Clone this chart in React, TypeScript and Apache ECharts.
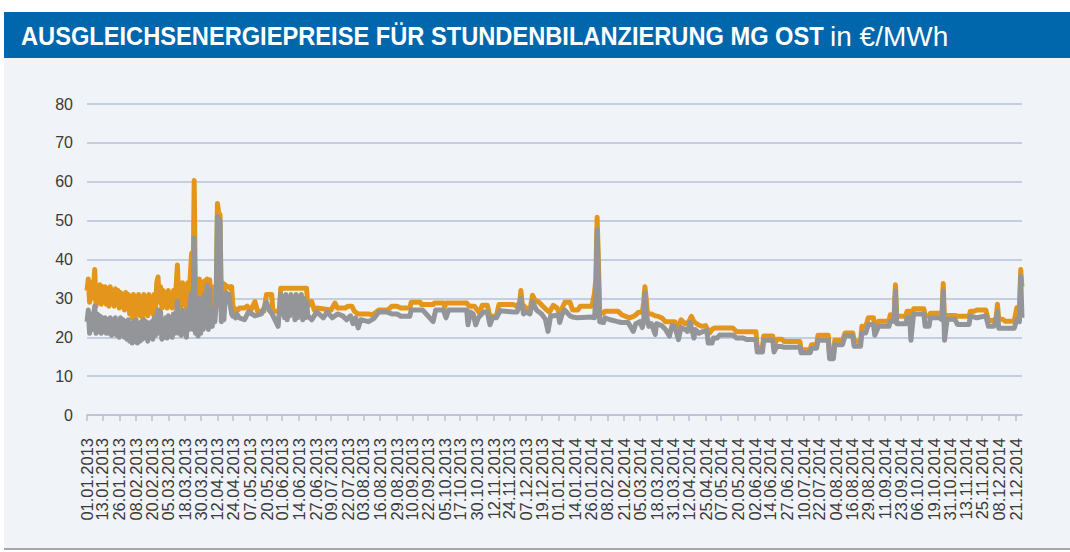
import React, { useEffect, useRef } from "react";
import * as echarts from "echarts";

// ---- axis categories: one per day from 01.01.2013 to 26.12.2014 ----
const START_UTC = Date.UTC(2013, 0, 1);
const DAY_COUNT = 725;
const pad = (n: number) => (n < 10 ? "0" + n : "" + n);
const dayLabel = (i: number) => {
  const d = new Date(START_UTC + i * 86400000);
  return pad(d.getUTCDate()) + "." + pad(d.getUTCMonth() + 1) + "." + d.getUTCFullYear();
};
const categories: string[] = Array.from({ length: DAY_COUNT }, (_, i) => dayLabel(i));

// ---- tick labels shown on the x axis ----
const tickLabels = [
  "01.01.2013", "13.01.2013", "26.01.2013", "08.02.2013", "20.02.2013", "05.03.2013",
  "18.03.2013", "30.03.2013", "12.04.2013", "24.04.2013", "07.05.2013", "20.05.2013",
  "01.06.2013", "14.06.2013", "27.06.2013", "09.07.2013", "22.07.2013", "03.08.2013",
  "16.08.2013", "29.08.2013", "10.09.2013", "22.09.2013", "05.10.2013", "17.10.2013",
  "30.10.2013", "12.11.2013", "24.11.2013", "07.12.2013", "19.12.2013", "01.01.2014",
  "14.01.2014", "26.01.2014", "08.02.2014", "21.02.2014", "05.03.2014", "18.03.2014",
  "31.03.2014", "12.04.2014", "25.04.2014", "07.05.2014", "20.05.2014", "02.06.2014",
  "14.06.2014", "27.06.2014", "10.07.2014", "22.07.2014", "04.08.2014", "16.08.2014",
  "29.08.2014", "11.09.2014", "23.09.2014", "06.10.2014", "19.10.2014", "31.10.2014",
  "13.11.2014", "25.11.2014", "08.12.2014", "21.12.2014",
];
const yTicks = [0, 10, 20, 30, 40, 50, 60, 70, 80];

// ---- orange series (upper), daily values from 01.01.2013 (day 0..117) ----
const orangeEarly = [
  32, 35, 29, 34, 30, 33, 37.4, 28, 33, 29, 33.5, 28.5, 33, 29, 33, 28.5, 32.5, 28, 33, 29,
  32, 28, 32.5, 28.5, 32, 27.5, 31.5, 28, 31, 27, 31.5, 27.5, 31, 26, 30.5, 25, 31, 24.5, 30.5, 26,
  31, 25.5, 30, 25, 31, 26, 30.5, 25.5, 31, 26.5, 30, 26, 31, 27, 34, 35.5, 29, 33, 27.5, 32,
  28, 31.5, 27.5, 32, 28, 31, 27.5, 32, 28.5, 33, 38.6, 30, 33.5, 28, 34, 28.5, 33, 27.5, 34, 30,
  36, 41.6, 31, 60.3, 29, 34.5, 27.5, 35, 28, 34, 27.5, 34.5, 30, 35, 28, 34.8, 29, 33, 28, 32.5,
  30, 54.4, 52, 51.5, 28, 34, 27, 33.5, 33, 33, 33, 32.5, 33, 28, 27.5, 26.5, 27, 27,
];
// ---- orange series, later points [day index, value] ----
const orangeLate: [number, number][] = [
  [118, 27.5], [122, 27.5], [124, 28], [127, 27], [130, 29.2], [132, 26.7], [137, 26.7], [139, 31],
  [143, 31], [144, 26.7], [149, 26.7], [150, 32.6], [170, 32.6], [171, 28], [174, 29.2], [176, 27],
  [178, 27.5], [189, 27], [192, 28.8], [194, 27.5], [200, 27.5], [202, 28], [205, 28], [207, 26.7],
  [210, 26], [218, 26], [221, 25.8], [224, 26.5], [226, 27], [233, 27], [236, 28], [240, 28],
  [243, 27.5], [250, 27.5], [251, 29], [258, 29], [259, 28.4], [268, 28.4], [269, 28.8], [276, 28.8],
  [277, 27.8], [278, 28.8], [294, 28.8], [296, 28], [300, 28], [304, 26.2], [306, 28.2], [310, 28.2],
  [312, 25.4], [317, 25.4], [319, 28.4], [330, 28.4], [333, 28], [335, 29], [336, 32], [337, 28.5],
  [340, 27.5], [343, 27], [345, 30.8], [347, 29.5], [350, 29], [353, 28], [356, 27], [358, 26.5],
  [359, 27], [361, 28.2], [364, 27.5], [366, 26], [368, 27.5], [370, 29], [374, 29], [376, 27],
  [380, 27], [382, 28], [391, 28], [393, 31.4], [394, 35], [395, 50.9], [396, 40], [397, 26.2],
  [400, 26.2], [401, 26.7], [411, 26.7], [414, 25.8], [420, 25], [424, 25.5], [427, 26.4], [430, 26.4],
  [431, 29], [432, 33], [433, 30], [434, 26], [437, 26], [440, 25.5], [442, 25.4], [445, 25],
  [448, 24], [452, 24], [455, 24], [458, 22.8], [460, 24.5], [463, 23.5], [466, 24], [468, 25.4],
  [470, 24], [473, 23.3], [476, 22.8], [479, 23], [482, 21.1], [484, 22], [486, 22.4], [500, 22.4],
  [502, 21.8], [503, 21.4], [518, 21.4], [519, 17.3], [523, 17.3], [524, 20.3], [531, 20.3], [532, 17.3],
  [534, 19.5], [538, 19.5], [540, 18.9], [552, 18.9], [553, 16.8], [560, 16.8], [561, 18.1], [565, 18.1],
  [566, 20.5], [574, 20.5], [575, 15.5], [578, 15.5], [579, 19.2], [585, 19.2], [587, 21.1], [593, 21.1],
  [594, 19], [599, 19], [600, 22.8], [603, 22.8], [605, 25], [609, 25], [610, 22], [613, 24.1],
  [621, 24.1], [622, 25.8], [625, 25.8], [626, 33.5], [627, 25.4], [634, 25.4], [635, 26.7], [637, 26.7],
  [638, 24], [640, 27.3], [648, 27.3], [649, 25.4], [652, 25.4], [653, 26.2], [660, 26.2], [662, 26],
  [663, 33.8], [664, 24], [666, 25.6], [672, 25.6], [674, 25.4], [683, 25.4], [684, 26.7], [687, 26.7],
  [689, 27], [696, 27], [698, 24.3], [702, 24.3], [704, 25], [705, 28.5], [706, 24.6], [709, 24.6],
  [711, 24.1], [718, 24.1], [720, 27.6], [722, 27], [723, 37.4], [724, 33],
];

// ---- grey series (lower), daily values from 01.01.2013 (day 0..117) ----
const greyEarly = [
  24, 27, 21, 26, 22, 25.5, 28, 21, 26, 21.5, 25.5, 21, 25, 21.5, 25, 21, 24.5, 21, 25, 20.5,
  24.5, 21, 25, 20.5, 24, 20, 25, 21, 24.5, 20, 24, 19.5, 24.5, 19, 23.5, 18.5, 24, 19, 24.5, 18.5,
  23.5, 19, 24, 19.5, 24.5, 20, 24, 19, 23.5, 20, 24, 19.5, 25, 20.5, 25, 27, 21, 26.5, 19.5, 24.5,
  20, 25, 19.8, 25.5, 20.5, 25, 20, 26, 21, 25, 29.2, 21, 26, 20.5, 27, 21, 25.5, 20, 27, 22,
  29, 31.4, 22, 45.5, 21, 29, 20.3, 30, 21, 29, 22, 31, 23, 33.3, 22, 32.3, 24, 22.8, 27, 24,
  28, 51, 49, 50, 24, 27, 24.5, 30, 31.4, 29, 31, 28, 26, 25.4, 25.5, 25, 26, 25.5,
];
// ---- grey series, later points [day index, value] ----
const greyLate: [number, number][] = [
  [118, 25], [122, 24.5], [125, 26.5], [130, 25.5], [135, 26], [139, 29], [141, 27], [143, 26.2],
  [148, 22.8], [150, 31], [151, 26], [152, 30.5], [153, 25], [154, 31], [155, 24.5], [156, 30],
  [157, 25.5], [158, 31], [159, 26], [160, 30], [161, 24.5], [162, 31], [163, 25], [164, 30.5],
  [165, 26], [166, 31], [167, 24.5], [168, 30], [169, 25], [170, 29], [171, 25.5], [174, 24.5],
  [178, 26.5], [183, 25], [186, 26.5], [190, 25], [194, 26], [198, 25.5], [201, 24.5], [204, 25.5],
  [206, 23.5], [208, 25], [210, 22.4], [212, 24.5], [218, 24], [222, 24.8], [226, 26.5], [232, 26.5],
  [236, 26], [240, 26], [243, 25.4], [250, 25.4], [251, 27], [258, 27], [260, 27], [268, 24],
  [270, 27], [276, 27], [278, 25], [280, 27], [294, 27], [295, 23.2], [297, 26.5], [299, 26],
  [301, 23.2], [303, 25], [307, 26.5], [310, 26.5], [312, 23.2], [314, 25], [317, 25], [320, 26.8],
  [330, 26.5], [333, 26.5], [336, 30], [338, 26], [340, 26.5], [343, 26], [345, 29.2], [348, 27],
  [352, 26], [355, 24.6], [357, 21.5], [359, 25.5], [362, 25.5], [365, 25.8], [366, 23.8], [368, 26],
  [370, 27], [374, 25.5], [376, 25.2], [380, 25], [390, 25.2], [393, 25], [394, 30], [395, 47.6],
  [396, 35], [397, 24], [400, 23.8], [401, 25], [405, 24.5], [411, 24], [414, 23.8], [419, 23.8],
  [423, 21.5], [425, 23.5], [428, 24], [430, 22.5], [431, 24], [432, 31.4], [433, 26], [435, 22.8],
  [437, 23.5], [440, 20.7], [441, 23.5], [445, 23], [448, 22], [451, 20.3], [453, 23], [455, 22.8],
  [458, 19.4], [460, 22.5], [463, 22], [465, 21.5], [467, 23.8], [470, 19.8], [471, 22], [474, 21],
  [477, 21.5], [480, 21.7], [481, 18.5], [484, 18.5], [485, 19.8], [488, 19.8], [490, 20.6], [500, 20.6],
  [503, 19.8], [508, 19.8], [511, 19.4], [518, 19.4], [519, 16.2], [523, 16.2], [524, 19.2], [531, 19.2],
  [532, 16.2], [534, 17.6], [538, 17.6], [540, 17.4], [552, 17.4], [553, 16], [560, 16], [561, 17.2],
  [565, 17.2], [566, 19.2], [574, 19.2], [575, 14.5], [578, 14.5], [579, 18.1], [585, 18.1], [587, 20.3],
  [593, 20.3], [594, 17.7], [599, 17.7], [600, 21.1], [603, 21.1], [605, 23.3], [609, 23.3], [610, 20.5],
  [613, 22.8], [621, 22.8], [622, 24.1], [625, 24.1], [626, 31.9], [627, 23.5], [634, 23.5], [635, 25],
  [637, 25], [638, 19.2], [640, 26], [648, 26], [649, 22.8], [652, 22.8], [653, 25], [660, 25],
  [662, 24.5], [663, 31.9], [664, 19.2], [666, 24.6], [672, 24.6], [674, 23.3], [683, 23.3], [684, 25.5],
  [689, 25], [696, 25.5], [698, 22.8], [702, 22.8], [704, 24], [705, 26.7], [706, 22.3], [718, 22.3],
  [720, 24.6], [722, 24], [723, 35.6], [724, 25],
];

const titleBold = "AUSGLEICHSENERGIEPREISE FÜR STUNDENBILANZIERUNG MG OST";
const titleUnit = "in €/MWh";

const ORANGE = "#E3961B";
const GREY = "#939598";
const GRID_COLOR = "#B7C2D6";
const BG = "#F0F3F8";
const BLUE = "#0067AC";

const toSeries = (early: number[], late: [number, number][]) => [
  ...early.map((v, i) => [i, v]),
  ...late.map(([d, v]) => [d, v]),
];

export default function App() {
  const ref = useRef<HTMLDivElement>(null);
  useEffect(() => {
    document.body.style.margin = "0";
    const chart = echarts.init(ref.current!, undefined, { renderer: "svg" });
    const tickSet = new Set(tickLabels);
    const showTick = (_i: number, v: string) => tickSet.has(v);
    chart.setOption({
      animation: false,
      backgroundColor: "#FFFFFF",
      graphic: [
        { type: "rect", shape: { x: 4, y: 12, width: 1066, height: 46 }, style: { fill: BLUE }, z: -1 },
        { type: "rect", shape: { x: 4, y: 58, width: 1066, height: 490 }, style: { fill: BG }, z: -10 },
        { type: "line", shape: { x1: 4, y1: 549, x2: 1070, y2: 549 }, style: { stroke: "#8A8A8A", lineWidth: 1.5 } },
        {
          type: "text",
          x: 21,
          y: 36,
          scaleX: 0.91,
          style: {
            text: titleBold,
            fontFamily: "Liberation Sans, Arial",
            fontWeight: "bold",
            fontSize: 26,
            fill: "#FFFFFF",
            verticalAlign: "middle",
          },
        },
        {
          type: "text",
          x: 830,
          y: 36,
          style: {
            text: titleUnit,
            fontFamily: "Liberation Sans, Arial",
            fontWeight: "normal",
            fontSize: 28,
            fill: "#FFFFFF",
            verticalAlign: "middle",
          },
        },
      ],
      grid: { left: 87, right: 48, top: 104, bottom: 137, outerBoundsMode: "none" },
      xAxis: {
        type: "category",
        data: categories,
        boundaryGap: false,
        axisLine: { lineStyle: { color: GRID_COLOR, width: 1.5 } },
        axisTick: { interval: showTick, length: 6, lineStyle: { color: GRID_COLOR, width: 1.5 } },
        axisLabel: {
          interval: 0,
          showMinLabel: true,
          showMaxLabel: true,
          formatter: (v: string) => (tickSet.has(v) ? v : ""),
          rotate: 90,
          margin: 23,
          color: "#3A3A3A",
          fontSize: 16.5,
          fontFamily: "Liberation Sans, Arial",
        },
        splitLine: { show: false },
      },
      yAxis: {
        type: "value",
        min: yTicks[0],
        max: yTicks[yTicks.length - 1],
        interval: 10,
        axisLine: { show: false },
        axisTick: { show: false },
        axisLabel: { margin: 14, color: "#3A3A3A", fontSize: 16, fontFamily: "Liberation Sans, Arial" },
        splitLine: { lineStyle: { color: GRID_COLOR, width: 1.5 } },
      },
      series: [
        {
          name: "orange",
          type: "line",
          data: toSeries(orangeEarly, orangeLate),
          showSymbol: false,
          lineStyle: { color: ORANGE, width: 5, join: "round" },
          itemStyle: { color: ORANGE },
          z: 2,
        },
        {
          name: "grey",
          type: "line",
          data: toSeries(greyEarly, greyLate),
          showSymbol: false,
          lineStyle: { color: GREY, width: 5, join: "round" },
          itemStyle: { color: GREY },
          z: 3,
        },
      ],
    });
    return () => chart.dispose();
  }, []);
  return <div ref={ref} style={{ width: 1070, height: 552 }} />;
}
